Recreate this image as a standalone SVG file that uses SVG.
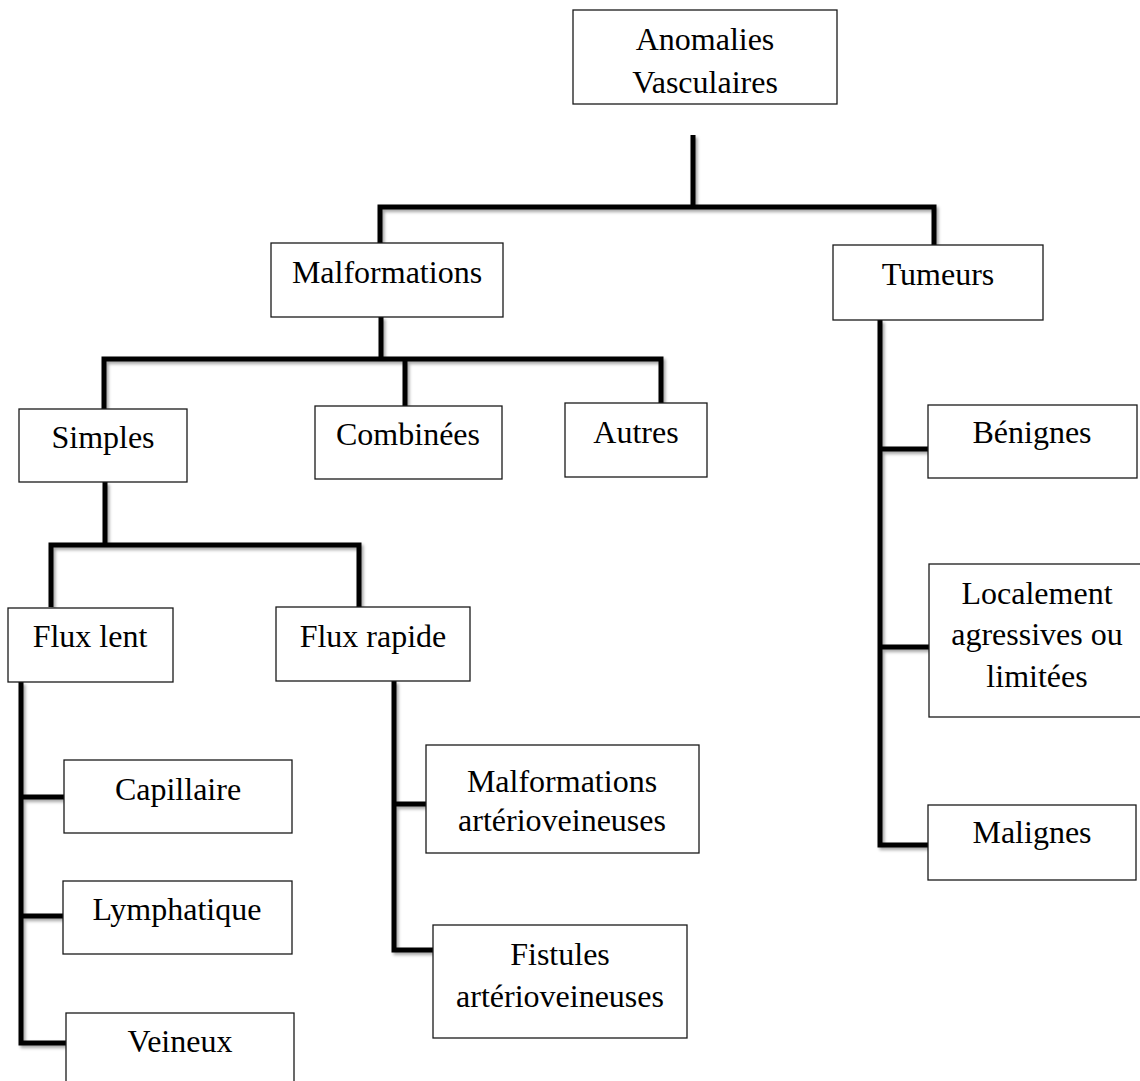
<svg xmlns="http://www.w3.org/2000/svg" width="1140" height="1081" viewBox="0 0 1140 1081">
<defs>
<style>
.box{fill:#fff;stroke:#1a1a1a;stroke-width:1.3}
.t{font-family:"Liberation Serif","Times New Roman",serif;font-size:32px;fill:#000;text-anchor:middle}
.c{fill:none;stroke:#000;stroke-width:5;stroke-linejoin:miter}
</style>
<filter id="sh" x="-20%" y="-20%" width="140%" height="140%">
<feDropShadow dx="2" dy="2.5" stdDeviation="1.5" flood-color="#000" flood-opacity="0.35"/>
</filter>
</defs>
<rect width="1140" height="1081" fill="#fff"/>
<g id="connectors" filter="url(#sh)">
<path class="c" d="M693,135 V207"/>
<path class="c" d="M380,243 V207 H934 V245"/>
<path class="c" d="M381,317 V359"/>
<path class="c" d="M104,409 V359 H661 V403"/>
<path class="c" d="M405,359 V406"/>
<path class="c" d="M105,482 V545"/>
<path class="c" d="M51,607 V545 H359 V607"/>
<path class="c" d="M21,682 V1043 H66"/>
<path class="c" d="M21,797 H64"/>
<path class="c" d="M21,916 H63"/>
<path class="c" d="M394,681 V950 H433"/>
<path class="c" d="M394,804 H426"/>
<path class="c" d="M880,320 V845 H928"/>
<path class="c" d="M880,449 H928"/>
<path class="c" d="M880,647 H929"/>
</g>
<g id="anomalies"><rect class="box" x="573" y="10" width="264" height="94"/><text class="t" x="705" y="50">Anomalies</text><text class="t" x="705" y="93">Vasculaires</text></g>
<g id="malformations"><rect class="box" x="271" y="243" width="232" height="74"/><text class="t" x="387" y="283">Malformations</text></g>
<g id="tumeurs"><rect class="box" x="833" y="245" width="210" height="75"/><text class="t" x="938" y="285">Tumeurs</text></g>
<g id="simples"><rect class="box" x="19" y="409" width="168" height="73"/><text class="t" x="103" y="448">Simples</text></g>
<g id="combinees"><rect class="box" x="315" y="406" width="187" height="73"/><text class="t" x="408" y="445">Combinées</text></g>
<g id="autres"><rect class="box" x="565" y="403" width="142" height="74"/><text class="t" x="636" y="443">Autres</text></g>
<g id="flux-lent"><rect class="box" x="8" y="608" width="165" height="74"/><text class="t" x="90" y="647">Flux lent</text></g>
<g id="flux-rapide"><rect class="box" x="276" y="607" width="194" height="74"/><text class="t" x="373" y="647">Flux rapide</text></g>
<g id="capillaire"><rect class="box" x="64" y="760" width="228" height="73"/><text class="t" x="178" y="800">Capillaire</text></g>
<g id="lymphatique"><rect class="box" x="63" y="881" width="229" height="73"/><text class="t" x="177" y="920">Lymphatique</text></g>
<g id="veineux"><rect class="box" x="66" y="1013" width="228" height="80"/><text class="t" x="180" y="1052">Veineux</text></g>
<g id="malformations-av"><rect class="box" x="426" y="745" width="273" height="108"/><text class="t" x="562" y="792">Malformations</text><text class="t" x="562" y="831">artérioveineuses</text></g>
<g id="fistules-av"><rect class="box" x="433" y="925" width="254" height="113"/><text class="t" x="560" y="965">Fistules</text><text class="t" x="560" y="1007">artérioveineuses</text></g>
<g id="benignes"><rect class="box" x="928" y="405" width="209" height="73"/><text class="t" x="1032" y="443">Bénignes</text></g>
<g id="localement"><rect class="box" x="929" y="564" width="216" height="153"/><text class="t" x="1037" y="604">Localement</text><text class="t" x="1037" y="645">agressives ou</text><text class="t" x="1037" y="687">limitées</text></g>
<g id="malignes"><rect class="box" x="928" y="805" width="208" height="75"/><text class="t" x="1032" y="843">Malignes</text></g>
</svg>
